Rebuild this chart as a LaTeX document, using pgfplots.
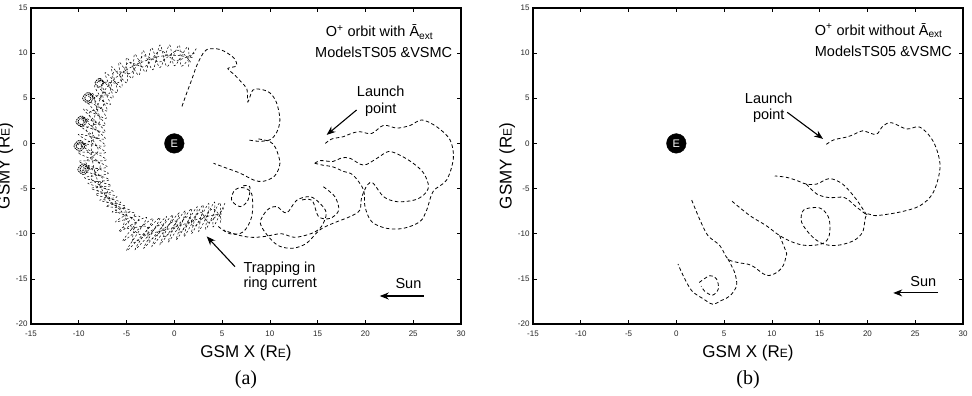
\documentclass[border=0pt]{standalone}
\usepackage{pgfplots}
\pgfplotsset{compat=1.18}
\usetikzlibrary{arrows.meta}
\usepackage{fontspec}
\setmainfont{Liberation Sans}
\newfontfamily\seriffont{Liberation Serif}
\newcommand{\smE}{{\fontsize{12}{12}\selectfont E}}
\tikzset{
  ann/.style={font=\fontsize{14.5}{16.5}\selectfont},
  arr/.style={-{Stealth[length=9pt,width=7pt]}, line width=1.1pt},
}
\pgfplotsset{
  myaxis/.style={
    scale only axis, width=430pt, height=316pt,
    xmin=-15, xmax=30, ymin=-20, ymax=15,
    clip mode=individual,
    xtick={-15,-10,...,30}, ytick={-20,-15,...,15},
    tick align=inside, major tick length=4pt,
    axis line style={line width=1.3pt},
    every tick/.style={black, line width=0.6pt},
    tick label style={font=\fontsize{8}{9}\selectfont, text=black!85},
    xticklabel style={yshift=-3pt},
    /pgf/number format/assume math mode=true,
    label style={font=\fontsize{17}{18}\selectfont},
    xlabel style={at={(axis description cs:0.5,-0.092)}, anchor=center},
    ylabel style={at={(axis description cs:-0.06,0.5)}, anchor=center},
    xlabel={GSM X (R\smE)}, ylabel={GSMY (R\smE)},
  },
  orbit/.style={black, line width=0.8pt, dash pattern=on 3.5pt off 2.5pt, smooth, tension=0.55, mark=none},
  dense/.style={black, line width=0.5pt, dash pattern=on 2.2pt off 2pt, smooth, tension=0.5, mark=none},
  tight/.style={black, line width=0.75pt, dash pattern=on 1.6pt off 0.8pt, smooth, tension=0.6, mark=none},
  earth/.style={only marks, mark=*, mark size=9.8pt, black, nodes near coords={E},
    every node near coord/.style={anchor=center, text=white, font=\fontsize{11}{11}\selectfont}},
}
\begin{document}
\begin{tikzpicture}[x=1pt,y=1pt]
\useasboundingbox (0,0) rectangle (972,396);
% ---------------- panel (a) ----------------
\begin{axis}[myaxis, at={(31pt,72pt)}, anchor=south west]
% launch + outer loop
\addplot[orbit] coordinates {(15.8,0.0) (16.5,0.5) (17.7,0.75) (18.5,1.1) (19.4,1.3) (20.65,1.1) (21.9,2.0) (23.3,1.7) (24.7,2.0) (25.9,2.6) (27.45,1.85) (28.85,0.4) (29.2,-1.65) (28.5,-4.05) (27.1,-5.3) (26.4,-7.4) (25.7,-8.66) (24.0,-9.4) (22.2,-9.4) (20.65,-8.66) (19.95,-7.0) (19.8,-5.15) (18.7,-3.5) (17.7,-3.1) (16.6,-2.6) (15.5,-2.4) (14.7,-2.2)};
\addplot[orbit] coordinates {(14.7,-2.2) (15.3,-1.9) (16.6,-2.0) (17.5,-1.6) (18.4,-1.65) (19.8,-2.4) (21.2,-1.65) (22.4,-0.9) (23.6,-1.3) (25.0,-2.2) (26.1,-3.3) (26.6,-4.8) (26.0,-5.8) (25.0,-6.3) (23.3,-6.45) (21.9,-5.9) (20.8,-4.4) (20.2,-4.6) (19.6,-6.0) (19.4,-7.4) (18.4,-8.1) (16.6,-8.85) (15.2,-9.6) (13.85,-11.05) (12.45,-11.6) (11.05,-11.4) (10.0,-10.5) (9.0,-8.85) (9.7,-7.4) (10.7,-7.0) (11.75,-7.7) (12.8,-6.3) (14.2,-5.9) (15.2,-6.6) (15.9,-7.7) (15.4,-9.2) (14.4,-9.95) (12.6,-10.4) (11.2,-10.0) (9.5,-10.3) (8.0,-10.4) (6.5,-10.1) (5.2,-9.6)};
\addplot[orbit] coordinates {(15.6,-4.8) (16.8,-5.9) (17.2,-7.4) (16.3,-8.3) (15.1,-8.1) (14.4,-6.3) (13.2,-6.3)};
\addplot[orbit] coordinates {(7.2,-4.7) (7.9,-4.8) (7.7,-6.3) (6.9,-7.0) (6.0,-6.3) (6.3,-5.2) (7.2,-4.9) (8.1,-5.6) (8.1,-8.1) (7.2,-9.8) (5.8,-10.0) (4.6,-9.2)};
% dayside upper structure
\addplot[orbit] coordinates {(0.8,4.1) (1.3,5.6) (1.8,7.0) (2.3,8.5) (2.8,9.6) (3.4,10.4) (4.8,10.4) (6.2,9.5) (6.5,8.6) (5.6,8.3) (6.3,7.6) (7.0,6.8) (7.6,6.0) (7.7,4.6) (8.2,5.9) (9.0,6.0) (10.0,5.6) (10.7,4.5) (11.05,2.6) (10.7,1.2) (10.0,0.4) (8.8,0.24) (7.7,0.4)};
\addplot[orbit] coordinates {(8.8,0.5) (10.0,0.2) (10.6,-0.5) (11.05,-2.2) (10.5,-3.6) (9.3,-4.2) (8.3,-4.05) (6.9,-3.3) (5.5,-2.75) (4.1,-2.2)};
% ring current band
\addplot[dense] coordinates {(2.3,10.5) (0.75,8.55) (0.5,10.9) (-0.75,8.5) (-1.5,10.9) (-2.25,8.15) (-3.3,10.3) (-3.7,7.55) (-5.0,9.5) (-4.95,6.7) (-6.6,8.5) (-5.95,5.6) (-7.9,7.2) (-6.7,4.3) (-8.8,5.6) (-7.1,2.8) (-9.5,3.8) (-7.2,1.25) (-9.9,2.0) (-7.2,-0.25) (-10.2,0) (-7.1,-1.8) (-10.0,-2.0) (-6.9,-3.3) (-9.4,-3.8) (-6.6,-4.65) (-8.7,-5.0) (-6.0,-5.9) (-7.8,-6.3) (-5.1,-6.95) (-6.5,-7.6) (-4.1,-7.75) (-5.8,-9.8) (-2.9,-8.2) (-5.0,-11.9) (-1.5,-8.2) (-3.2,-11.6) (-0.15,-7.9) (-1.5,-11.2) (1.15,-7.45) (0.2,-10.7) (2.4,-7.0) (1.8,-10.0) (3.6,-6.65) (3.3,-9.5) (4.75,-6.55) (4.8,-9.0)};
\addplot[dense] coordinates {(1.5,8.5) (1.4,10.7) (0,8.6) (-0.5,10.9) (-1.5,8.4) (-2.4,10.6) (-3.0,7.9) (-4.15,9.9) (-4.4,7.2) (-5.8,9.0) (-5.5,6.2) (-7.25,7.85) (-6.4,5.0) (-8.35,6.4) (-7.0,3.6) (-9.15,4.7) (-7.2,2.0) (-9.7,2.9) (-7.2,0.5) (-10.05,1.0) (-7.2,-1.0) (-10.1,-1.0) (-7.0,-2.6) (-9.7,-2.9) (-6.8,-4.0) (-9.05,-4.4) (-6.4,-5.3) (-8.25,-5.65) (-5.6,-6.5) (-7.15,-6.95) (-4.6,-7.4) (-6.15,-8.7) (-3.6,-8.1) (-5.4,-10.85) (-2.2,-8.3) (-4.1,-11.75) (-0.8,-8.1) (-2.35,-11.4) (0.5,-7.7) (-0.65,-10.95) (1.8,-7.2) (1.0,-10.35) (3.0,-6.8) (2.55,-9.75) (4.2,-6.5) (4.05,-9.25) (5.3,-6.6)};
\addplot[dense] coordinates {(1.9,9.5) (0.25,9.75) (-1.5,9.65) (-3.15,9.1) (-4.7,8.35) (-6.05,7.35) (-7.15,6.1) (-7.9,4.6) (-8.35,2.9) (-8.55,1.25) (-8.7,-0.5) (-8.5,-2.3) (-8.1,-3.9) (-7.55,-5.15) (-6.7,-6.4) (-5.55,-7.5) (-4.7,-8.95) (-3.6,-10.1) (-2.0,-9.85) (-0.5,-9.45) (1.0,-8.95) (2.4,-8.4) (3.75,-8.0) (5.05,-7.8)};
\addplot[dense] coordinates {(2.1,10.0) (0.13,9.18) (-1.5,10.28) (-3.08,8.5) (-4.85,8.93) (-5.78,6.78) (-7.53,6.65) (-7.45,4.1) (-8.93,3.35) (-7.88,0.88) (-9.45,-0.25) (-7.75,-2.45) (-8.75,-3.85) (-6.98,-5.23) (-7.25,-6.35) (-5.08,-7.45) (-5.25,-9.38) (-2.9,-9.2) (-2.6,-10.73) (0,-8.58) (0.6,-9.83) (2.7,-7.6) (3.53,-8.75) (5.18,-7.2)};
\addplot[dense] coordinates {(1.7,9.0) (0.38,10.33) (-1.5,9.03) (-3.23,9.7) (-4.55,7.78) (-6.33,7.93) (-6.78,5.55) (-8.35,5.1) (-7.78,2.45) (-9.23,1.63) (-7.95,-0.75) (-9.25,-2.15) (-7.45,-3.95) (-8.13,-5.08) (-6.15,-6.45) (-6.03,-7.55) (-4.15,-8.53) (-4.3,-11.0) (-1.4,-8.98) (-1.0,-10.33) (1.4,-8.08) (2.1,-9.2) (3.98,-7.25) (4.93,-8.4)};
% tight loops on the nightside
\addplot[tight] coordinates {(-8.3,5.0) (-9.0,5.65) (-9.6,5.0) (-9.0,4.45) (-8.5,5.0) (-9.0,5.45) (-9.4,5.0) (-9.0,4.65) (-8.7,5.0) (-9.0,5.25)};
\addplot[tight] coordinates {(-9.0,2.4) (-9.7,3.05) (-10.3,2.4) (-9.7,1.85) (-9.2,2.4) (-9.7,2.85) (-10.1,2.4) (-9.7,2.05) (-9.4,2.4) (-9.7,2.65)};
\addplot[tight] coordinates {(-9.2,-0.3) (-9.9,0.35) (-10.5,-0.3) (-9.9,-0.85) (-9.4,-0.3) (-9.9,0.15) (-10.3,-0.3) (-9.9,-0.65) (-9.6,-0.3) (-9.9,-0.05)};
\addplot[tight] coordinates {(-8.8,-2.9) (-9.5,-2.25) (-10.1,-2.9) (-9.5,-3.45) (-9.0,-2.9) (-9.5,-2.45) (-9.9,-2.9) (-9.5,-3.25) (-9.2,-2.9) (-9.5,-2.65)};
\addplot[tight] coordinates {(-7.3,6.7) (-7.8,7.2) (-8.3,6.7) (-7.8,6.25) (-7.4,6.7) (-7.8,7.0) (-8.1,6.7)};
% Earth
\addplot[earth] coordinates {(0,0)};
% annotations
\node[ann, anchor=base west] at (axis cs:15.48,11.8) {O\textsuperscript{+} orbit with Ā\textsubscript{ext}};
\node[ann, anchor=base west] at (axis cs:14.37,9.54) {ModelsTS05 \&VSMC};
\node[ann, align=center] at (axis cs:21.6,4.65) {Launch\\point};
\draw[arr] (axis cs:19.07,3.7) -- (axis cs:15.94,0.94);
\node[ann, anchor=base west] at (axis cs:6.87,-14.31) {Trapping in};
\node[ann, anchor=base west] at (axis cs:6.87,-15.97) {ring current};
\draw[arr] (axis cs:6.35,-13.65) -- (axis cs:3.39,-10.3);
\node[ann, anchor=base] at (axis cs:24.5,-16.05) {Sun};
\draw[arr] (axis cs:26.1,-16.9) -- (axis cs:21.5,-16.9);
\node[font=\seriffont\fontsize{20}{20}\selectfont] at (axis description cs:0.5,-0.177) {(a)};
\end{axis}
% ---------------- panel (b) ----------------
\begin{axis}[myaxis, at={(533pt,72pt)}, anchor=south west]
\addplot[orbit] coordinates {(15.7,-0.1) (16.5,0.4) (17.8,0.7) (18.6,1.0) (19.5,1.4) (20.9,1.0) (21.6,1.9) (22.5,2.3) (24.1,1.6) (25.5,1.8) (26.9,0.2) (27.6,-2.5) (26.9,-5.4) (25.5,-6.9) (23.4,-7.6) (20.9,-8.0) (19.9,-7.9) (19.5,-9.8) (18.5,-10.8) (16.75,-11.3) (15.3,-11.1) (14.1,-10.2) (13.1,-8.7) (13.3,-7.4) (14.5,-7.1) (15.3,-7.3) (16.0,-8.4) (16.0,-10.2) (15.3,-11.1) (13.6,-11.3) (12.2,-10.95) (10.8,-10.2) (9.4,-9.1) (7.7,-8.0) (5.76,-6.34)};
\addplot[orbit] coordinates {(19.9,-7.9) (18.8,-6.15) (17.4,-4.5) (16.0,-3.9) (14.7,-4.5) (13.6,-4.5) (12.6,-4.1) (11.5,-3.75) (10.3,-3.6)};
\addplot[orbit] coordinates {(13.6,-4.5) (14.7,-5.6) (16.0,-6.0) (17.6,-6.0) (18.8,-7.0) (19.9,-7.9)};
\addplot[orbit] coordinates {(10.8,-10.2) (11.5,-12.05) (11.5,-12.4) (11.2,-13.5) (10.5,-14.3) (9.4,-14.6) (7.85,-13.5) (6.5,-13.2) (5.4,-12.8) (4.54,-11.3) (3.3,-10.2) (2.44,-8.4) (1.58,-6.2)};
\addplot[orbit] coordinates {(5.4,-12.8) (6.1,-14.3) (6.3,-15.75) (5.6,-16.9) (4.7,-17.4) (3.8,-17.8) (2.8,-17.2) (1.6,-16.3) (0.7,-14.6) (0.17,-13.35)};
\addplot[orbit] coordinates {(2.4,-15.4) (3.5,-14.65) (4.2,-15) (4.4,-16.1) (3.8,-16.8) (3,-16.4) (2.6,-15.8)};
\addplot[earth] coordinates {(0,0)};
\node[ann, anchor=base west] at (axis cs:14.13,12.0) {O\textsuperscript{+} orbit without Ā\textsubscript{ext}};
\node[ann, anchor=base west] at (axis cs:14.13,9.65) {ModelsTS05 \&VSMC};
\node[ann, align=center] at (axis cs:9.67,3.95) {Launch\\point};
\draw[arr] (axis cs:11.6,3.45) -- (axis cs:15.35,0.5);
\node[ann, anchor=base] at (axis cs:25.85,-15.8) {Sun};
\draw[arr] (axis cs:27.4,-16.56) -- (axis cs:22.7,-16.56);
\node[font=\seriffont\fontsize{20}{20}\selectfont] at (axis description cs:0.5,-0.177) {(b)};
\end{axis}
\end{tikzpicture}
\end{document}
